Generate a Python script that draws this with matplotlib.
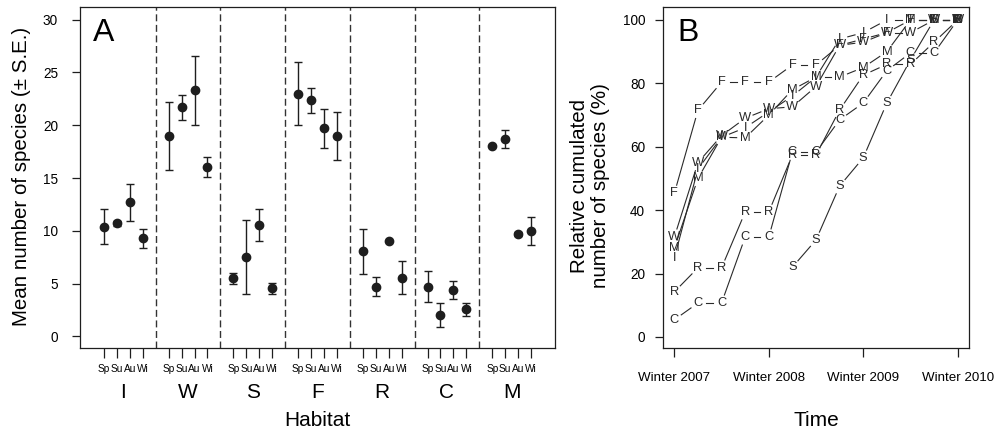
import numpy as np
import matplotlib.pyplot as plt
from matplotlib.transforms import blended_transform_factory

plt.rcParams['font.family'] = ['Liberation Sans', 'DejaVu Sans']

# panel A: mean number of species per habitat and season
habitats = ["I", "W", "S", "F", "R", "C", "M"]
seasons = ["Sp", "Su", "Au", "Wi"]
mean_I = [10.4, 10.7, 12.7, 9.3]
mean_W = [19.0, 21.7, 23.3, 16.05]
mean_S = [5.5, 7.5, 10.55, 4.55]
mean_F = [23.0, 22.35, 19.7, 19.0]
mean_R = [8.05, 4.7, 9.05, 5.55]
mean_C = [4.7, 2.05, 4.4, 2.55]
mean_M = [18.0, 18.7, 9.7, 10.0]
se_I = [1.65, 0.25, 1.75, 0.9]
se_W = [3.2, 1.2, 3.3, 0.95]
se_S = [0.5, 3.5, 1.5, 0.5]
se_F = [3.0, 1.2, 1.85, 2.25]
se_R = [2.1, 0.9, 0.0, 1.55]
se_C = [1.45, 1.15, 0.85, 0.63]
se_M = [0.0, 0.87, 0.2, 1.35]

# panel B: relative cumulated number of species (%), 13 seasonal surveys
time_labels = ["Winter 2007", "Winter 2008", "Winter 2009", "Winter 2010"]
survey = np.arange(13)
cum_I = [24.9, 53, 63, 66, 71, 76, 82, 94, 96, 100, 100, 100, 100]
cum_W = [31.5, 55, 63.5, 69, 72, 72.6, 79, 92, 93, 96, 96, 100, 100]
cum_S = [np.nan] * 5 + [22, 30.6, 47.6, 56.5, 73.8, 87.4, 100, 100]
cum_F = [45.3, 71.5, 80.4, 80.4, 80.4, 85.8, 85.8, 92, 94, 96, 100, 100, 100]
cum_R = [14.2, 21.8, 21.8, 39.4, 39.4, 57.4, 57.4, 71.6, 82.6, 86, 86, 93, 100]
cum_C = [5.4, 10.7, 10.7, 31.5, 31.5, 58.3, 58.3, 68.5, 73.8, 84, 89.6, 89.6, 100]
cum_M = [28, 50, 63, 62.8, 70, 78, 82, 82, 85, 90, 100, 100, 100]

means = [mean_I, mean_W, mean_S, mean_F, mean_R, mean_C, mean_M]
ses = [se_I, se_W, se_S, se_F, se_R, se_C, se_M]
curves = [cum_I, cum_W, cum_S, cum_F, cum_R, cum_C, cum_M]

ink = "#1e1e1e"
fig = plt.figure(figsize=(9.95, 4.34), dpi=100)
axA = fig.add_axes([80 / 995, 86 / 434, 475 / 995, 341 / 434])
axB = fig.add_axes([663 / 995, 86 / 434, 306 / 995, 341 / 434])

# ---- panel A
positions = []
for g, (m, s) in enumerate(zip(means, ses)):
    x = g * 5 + np.arange(1, 5)
    positions.extend(x)
    axA.errorbar(x, m, yerr=s, fmt="o", color=ink, ms=6, capsize=2.6,
                 elinewidth=1.0, capthick=1.0)
for g in range(1, len(habitats)):
    axA.axvline(g * 5, color="#333333", lw=1.0, dashes=(5, 2.6))
axA.set_xlim(-0.85, 35.85)
axA.set_ylim(-1.1, 31.2)
axA.set_yticks(range(0, 31, 5))
axA.set_xticks(positions)
axA.set_xticklabels(seasons * len(habitats), fontsize=7.3)
axA.tick_params(axis="x", direction="out", length=7.2, width=0.9, pad=4, color=ink)
axA.tick_params(axis="y", direction="out", length=5.8, width=0.9, pad=10, labelsize=9.8, color=ink)
trans = blended_transform_factory(axA.transData, fig.transFigure)
for g, h in enumerate(habitats):
    fig.text(g * 5 + 2.5, 1 - 392 / 434, h, transform=trans, ha="center", va="center", fontsize=15)
fig.text((80 + 555) / 2 / 995, 1 - 421 / 434, "Habitat", ha="center", va="center", fontsize=15)
fig.text(22 / 995, 1 - 176 / 434, "Mean number of species (\u00b1 S.E.)", rotation=90,
         ha="center", va="center", fontsize=14.8)
axA.text(0.027, 0.925, "A", transform=axA.transAxes, ha="left", va="center", fontsize=23)

# ---- panel B
axB.set_xlim(-0.48, 12.48)
axB.set_ylim(-3.5, 104.1)
axB.set_xticks([0, 4, 8, 12])
axB.set_xticklabels(time_labels, fontsize=9.6)
axB.set_yticks(range(0, 101, 20))
axB.tick_params(axis="x", direction="out", length=6.5, width=0.9, pad=11, color=ink)
axB.tick_params(axis="y", direction="out", length=5.8, width=0.9, pad=7, labelsize=9.8, color=ink)

gap = 8.5
inv = axB.transData.inverted()
for h, c in zip(habitats, curves):
    c = np.asarray(c, dtype=float)
    pts = axB.transData.transform(np.column_stack([survey, c]))
    for k in range(len(c) - 1):
        if np.isnan(c[k]) or np.isnan(c[k + 1]):
            continue
        d = pts[k + 1] - pts[k]
        L = np.hypot(*d)
        if L <= 2 * gap:
            continue
        u = d / L
        a = inv.transform(pts[k] + u * gap)
        b = inv.transform(pts[k + 1] - u * gap)
        axB.plot([a[0], b[0]], [a[1], b[1]], color="#2a2a2a", lw=0.8)
    for k in range(len(c)):
        if not np.isnan(c[k]):
            axB.text(survey[k], c[k], h, ha="center", va="center", fontsize=9.3, color="#2a2a2a")

fig.text((663 + 969) / 2 / 995, 1 - 421 / 434, "Time", ha="center", va="center", fontsize=15)
fig.text(590 / 995, 1 - 186 / 434, "Relative cumulated\nnumber of species (%)", rotation=90,
         ha="center", va="center", fontsize=14.8, linespacing=1.15)
axB.text(0.046, 0.925, "B", transform=axB.transAxes, ha="left", va="center", fontsize=23)

for ax in (axA, axB):
    for sp in ax.spines.values():
        sp.set_linewidth(0.9)
        sp.set_color(ink)

fig.savefig("out.png", dpi=100)
